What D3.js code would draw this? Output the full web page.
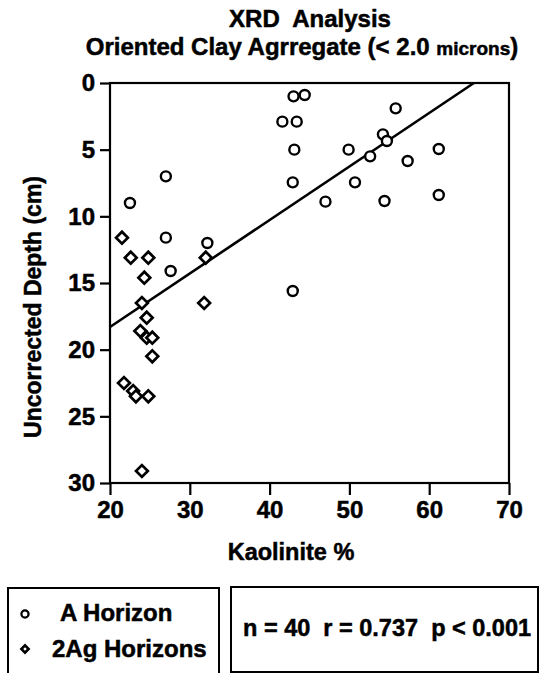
<!DOCTYPE html>
<html>
<head>
<meta charset="utf-8">
<script src="https://cdn.jsdelivr.net/npm/d3@7"></script>
<style>
  body { margin: 0; background: #fff; }
  text { font-family: "Liberation Sans", Arial, sans-serif; font-weight: bold; fill: #000;
         stroke: #000; stroke-width: 0.5px; white-space: pre; }
</style>
</head>
<body>
<svg id="chart"></svg>
<script>
// A Horizon (circles): [kaolinite %, depth cm]
let aHorizon = [
  [43.0, 1.0], [44.4, 0.9], [55.8, 1.9], [41.6, 2.9], [43.4, 2.9],
  [54.2, 3.85], [54.7, 4.35], [43.1, 5.0], [49.9, 5.0], [61.2, 4.95],
  [52.6, 5.5], [57.3, 5.85], [42.9, 7.45], [50.7, 7.45], [47.0, 8.9],
  [54.4, 8.85], [61.2, 8.4], [27.0, 7.0], [22.5, 9.0], [27.0, 11.6],
  [32.2, 12.0], [27.6, 14.1], [42.9, 15.6]
];
// 2Ag Horizons (diamonds)
let agHorizons = [
  [21.5, 11.6], [22.6, 13.1], [24.8, 13.1], [32.0, 13.1], [24.3, 14.6],
  [24.0, 16.5], [31.8, 16.5], [24.6, 17.6], [23.8, 18.6], [24.6, 19.1],
  [25.3, 19.1], [25.3, 20.5], [21.75, 22.5], [22.9, 23.1], [23.25, 23.5],
  [24.8, 23.5], [24.0, 29.1]
];
// regression line end points
let fitLine = [[20, 18.3], [65.6, 0]];
let xTicks = [20, 30, 40, 50, 60, 70];
let yTicks = [0, 5, 10, 15, 20, 25, 30];

let w = 544, h = 673;
let svg = d3.select("#chart").attr("width", w).attr("height", h);

let x = d3.scaleLinear().domain([20, 70]).range([110, 509]);
let y = d3.scaleLinear().domain([0, 30]).range([83, 483]);

// titles
svg.append("text").attr("x", 310).attr("y", 27).attr("text-anchor", "middle")
  .style("font-size", "24px").text("XRD  Analysis");
let t2 = svg.append("text").attr("x", 302).attr("y", 55).attr("text-anchor", "middle")
  .style("font-size", "24px");
t2.append("tspan").text("Oriented Clay Agrregate (< 2.0 ");
t2.append("tspan").style("font-size", "19px").text("microns");
t2.append("tspan").text(")");

// axes
let xAxis = svg.append("g").attr("transform", "translate(0,483)")
  .call(d3.axisBottom(x).tickValues(xTicks).tickSize(12).tickPadding(6));
let yAxis = svg.append("g").attr("transform", "translate(110,0)")
  .call(d3.axisLeft(y).tickValues(yTicks).tickSize(10).tickPadding(5));

[xAxis, yAxis].forEach(g => {
  g.select(".domain").remove();
  g.selectAll(".tick line").attr("stroke", "#000").attr("stroke-width", 2.2);
  g.selectAll(".tick text").style("font-size", "24px")
    .style("font-family", "'Liberation Sans', Arial, sans-serif").style("font-weight", "bold");
});

// frame
svg.append("rect")
  .attr("x", x(20)).attr("y", y(0))
  .attr("width", x(70) - x(20)).attr("height", y(30) - y(0))
  .attr("fill", "none").attr("stroke", "#000").attr("stroke-width", 2.2);

// axis titles
svg.append("text").attr("x", 291).attr("y", 560).attr("text-anchor", "middle")
  .style("font-size", "23.5px").text("Kaolinite %");
svg.append("text").attr("transform", "translate(41,307) rotate(-90)")
  .attr("text-anchor", "middle").style("font-size", "23px").text("Uncorrected Depth (cm)");

// regression line
svg.append("path")
  .attr("d", d3.line().x(d => x(d[0])).y(d => y(d[1]))(fitLine))
  .attr("fill", "none").attr("stroke", "#000").attr("stroke-width", 2.6);

// points
let plot = svg.append("g");
plot.selectAll("circle")
  .data(aHorizon)
  .enter()
  .append("circle")
  .attr("cx", d => x(d[0]))
  .attr("cy", d => y(d[1]))
  .attr("r", 5)
  .attr("fill", "#fff")
  .attr("stroke", "#000")
  .attr("stroke-width", 2.4);

let diamond = d3.symbol().type(d3.symbolSquare).size(70);
plot.selectAll("path.dia")
  .data(agHorizons)
  .enter()
  .append("path")
  .attr("class", "dia")
  .attr("d", diamond)
  .attr("transform", d => `translate(${x(d[0])},${y(d[1])}) rotate(45)`)
  .attr("fill", "#fff")
  .attr("stroke", "#000")
  .attr("stroke-width", 2.7);

// legend box
svg.append("rect").attr("x", 8).attr("y", 588).attr("width", 211).attr("height", 100)
  .attr("fill", "none").attr("stroke", "#000").attr("stroke-width", 2);
svg.append("circle").attr("cx", 25).attr("cy", 614).attr("r", 3.6)
  .attr("fill", "#fff").attr("stroke", "#000").attr("stroke-width", 2.2);
svg.append("path").attr("d", d3.symbol().type(d3.symbolSquare).size(26))
  .attr("transform", "translate(25,649) rotate(45)")
  .attr("fill", "#fff").attr("stroke", "#000").attr("stroke-width", 2.6);
svg.append("text").attr("x", 60).attr("y", 621).style("font-size", "24px").text("A Horizon");
svg.append("text").attr("x", 52).attr("y", 657).style("font-size", "24px").text("2Ag Horizons");

// stats box
svg.append("rect").attr("x", 231).attr("y", 587).attr("width", 307).attr("height", 85)
  .attr("fill", "none").attr("stroke", "#000").attr("stroke-width", 2);
svg.append("text").attr("x", 243).attr("y", 636).style("font-size", "23.5px")
  .text("n = 40  r = 0.737  p < 0.001");
</script>
</body>
</html>
